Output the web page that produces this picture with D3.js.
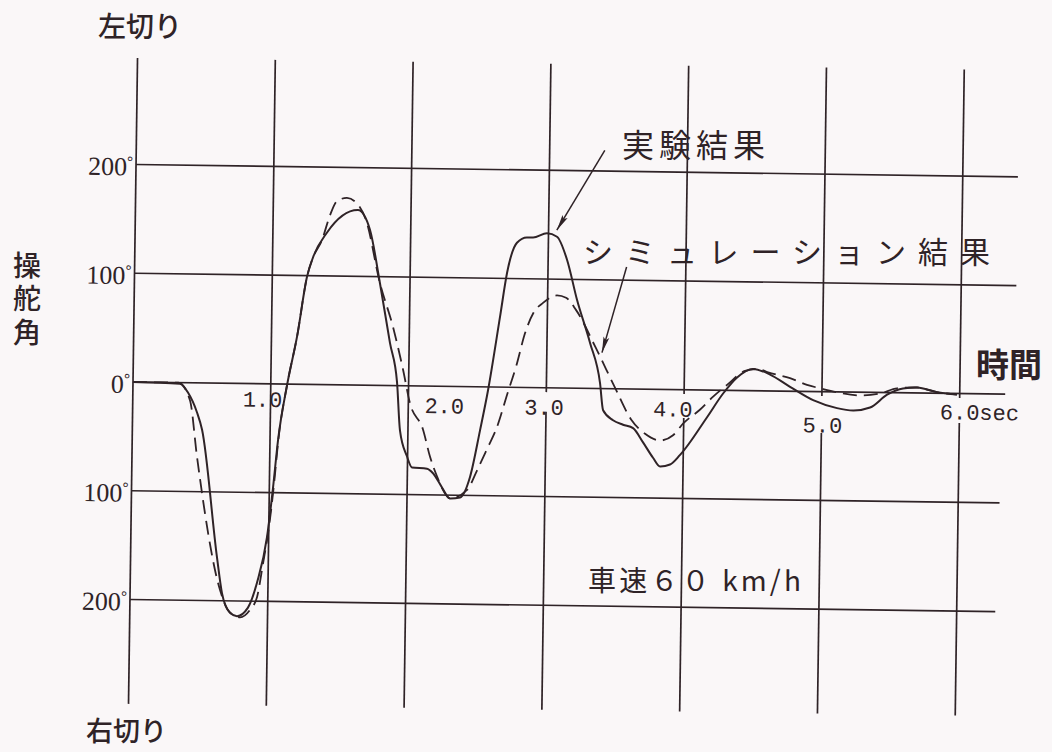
<!DOCTYPE html>
<html>
<head>
<meta charset="utf-8">
<script src="https://cdn.jsdelivr.net/npm/d3@7"></script>
<style>
  html, body { margin: 0; padding: 0; background: #faf7f8; }
  svg { display: block; }
</style>
</head>
<body>
<svg id="chart" width="1052" height="752"></svg>
<script>
// ---- data -------------------------------------------------------------
// time axis (seconds)
const timeTicks = [1, 2, 3, 4, 5, 6];
const timeTickLabels = ["1.0", "2.0", "3.0", "4.0", "5.0", "6.0sec"];

// steering angle axis (degrees, left turn positive)
const angleTicks = [200, 100, 0, -100, -200];
const angleTickLabels = ["200", "100", "0", "100", "200"];

// 実験結果 (measured steering angle)
const expTime = [0, 0.34, 0.40, 0.467, 0.506, 0.627, 0.667, 0.727, 0.778, 0.857,
  0.920, 0.988, 1.027, 1.058, 1.118, 1.186, 1.252, 1.294, 1.393, 1.615,
  1.704, 1.782, 1.861, 1.916, 1.942, 1.996, 2.033, 2.142, 2.186, 2.253,
  2.312, 2.385, 2.455, 2.523, 2.577, 2.657, 2.703, 2.772, 2.844, 2.888,
  2.989, 3.062, 3.137, 3.214, 3.312, 3.389, 3.414, 3.487, 3.560, 3.633,
  3.707, 3.781, 3.833, 3.905, 3.977, 4.169, 4.283, 4.383, 4.498, 4.622,
  4.768, 4.937, 5.111, 5.228, 5.351, 5.473, 5.588, 5.690, 5.835, 5.980];
const expAngle = [0, -1, -9, -27, -43, -160, -193, -211, -214, -206,
  -183, -141, -95, -52, -1, 44, 99, 117, 140, 161,
  143, 94, 39, 3, -41, -65, -75, -76, -80, -93,
  -103, -102, -83, -40, -3, 65, 105, 133, 138, 138,
  142, 139, 118, 81, 42, 5, -20, -29, -33, -36,
  -49, -63, -71, -69, -60, -25, -3, 12, 20, 15,
  4, -8, -15, -17, -14, -2, 4, 5, 1, -1];

// シミュレーション結果 (simulated steering angle)
const simTime = [0, 0.33, 0.415, 0.472, 0.652, 0.705, 0.749, 0.800, 0.872, 0.922,
  0.962, 1.000, 1.035, 1.060, 1.118, 1.186, 1.252, 1.294, 1.357, 1.413,
  1.462, 1.534, 1.607, 1.674, 1.782, 1.881, 1.958, 2.012, 2.109, 2.163,
  2.216, 2.268, 2.312, 2.435, 2.505, 2.576, 2.645, 2.720, 2.780, 2.840,
  2.900, 2.967, 3.068, 3.134, 3.207, 3.356, 3.498, 3.618, 3.721, 3.830,
  3.924, 3.997, 4.118, 4.211, 4.311, 4.440, 4.534, 4.607, 4.767, 4.891,
  4.986, 5.131, 5.277, 5.422, 5.545, 5.690, 5.835, 5.980];
const simAngle = [0, 0, -16, -68, -190, -207, -213, -215, -208, -196,
  -165, -133, -90, -52, -1, 44, 99, 117, 133, 156,
  169, 172, 167, 152, 94, 54, 15, -16, -40, -65,
  -83, -97, -103, -95, -77, -57, -37, -5, 20, 50,
  69, 78, 85, 83, 72, 37, 1, -28, -41, -47,
  -42, -31, -18, -6, 5, 18, 20, 17, 12, 6,
  3, -1, -3, -1, 4, 5, 1, -1];

// annotation arrows: [tail time, tail angle, head time, head angle]
const expArrow = [3.40, 219, 3.06, 145];
const simArrow = [3.57, 112, 3.40, 33];

// ---- layout -----------------------------------------------------------
const ink = "#2f2327";
const origin = { x: 133, y: 382 };
const pxPerSec = 137.8, pxPerDeg = 1.0875;
const tilt = 0.8;                        // the whole grid sits slightly rotated
const gridTop = 298, gridBottom = -296;  // vertical rule extents (deg)
const hRuleEnd = [6.4, 6.4, 6.33, 6.3, 6.28];          // right end of each horizontal rule (s)
const ruleGap = { 3: -22, 4: -26, 5: -38, 6: -27 };     // rules broken under their labels
const tickDx = [-8, 36, -2, -11, 1, 20];
const tickDy = [23, 27, 27, 27, 41, 26];

const x = d3.scaleLinear().domain([0, 6]).range([origin.x, origin.x + 6 * pxPerSec]);
const y = d3.scaleLinear().domain([-200, 200])
  .range([origin.y + 200 * pxPerDeg, origin.y - 200 * pxPerDeg]);

const svg = d3.select("#chart");
svg.append("rect").attr("width", 1052).attr("height", 752).attr("fill", "#faf7f8");

const defs = svg.append("defs");
defs.append("marker")
  .attr("id", "head")
  .attr("viewBox", "0 0 16 8")
  .attr("refX", 16).attr("refY", 4)
  .attr("markerWidth", 16).attr("markerHeight", 8)
  .attr("markerUnits", "userSpaceOnUse")
  .attr("orient", "auto")
  .append("path")
  .attr("d", "M0,1 L16,4 L0,7 L3,4 Z")
  .attr("fill", ink);

const plot = svg.append("g")
  .attr("transform", `rotate(${tilt},${origin.x},${origin.y})`);

// vertical rules (axis at t = 0)
const rules = plot.append("g").attr("stroke", ink).attr("stroke-width", 1.7).attr("fill", "none");
[0, ...timeTicks].forEach(t => {
  if (ruleGap[t] !== undefined) {
    rules.append("line").attr("x1", x(t)).attr("x2", x(t)).attr("y1", y(gridTop)).attr("y2", y(-4));
    rules.append("line").attr("x1", x(t)).attr("x2", x(t)).attr("y1", y(ruleGap[t])).attr("y2", y(gridBottom));
  } else {
    rules.append("line").attr("x1", x(t)).attr("x2", x(t)).attr("y1", y(gridTop)).attr("y2", y(gridBottom));
  }
});
// horizontal rules
angleTicks.forEach((v, i) => {
  rules.append("line").attr("x1", x(0)).attr("x2", x(hRuleEnd[i])).attr("y1", y(v)).attr("y2", y(v));
});

// angle labels
const yLab = plot.append("g")
  .attr("font-family", "'Liberation Serif', serif")
  .attr("font-size", 26)
  .attr("fill", ink)
  .attr("text-anchor", "end");
angleTicks.forEach((v, i) => {
  const t = yLab.append("text").attr("x", x(0) - 3).attr("y", y(v) + 11);
  t.append("tspan").text(angleTickLabels[i]);
  t.append("tspan").attr("font-size", 15).attr("dy", -9).attr("font-weight", 700).text("°");
});

// time labels
const xLab = plot.append("g")
  .attr("font-family", "'Liberation Mono', monospace")
  .attr("font-size", 22)
  .attr("fill", ink)
  .attr("text-anchor", "middle");
timeTicks.forEach((t, i) => {
  xLab.append("text")
    .attr("x", x(t) + tickDx[i])
    .attr("y", y(0) + tickDy[i])
    .text(timeTickLabels[i]);
});

// curves
const line = d3.line()
  .x(d => x(d[0]))
  .y(d => y(d[1]))
  .curve(d3.curveMonotoneX);

const simData = simTime.map((t, i) => [t, simAngle[i]]);
const expData = expTime.map((t, i) => [t, expAngle[i]]);

plot.append("path")
  .datum(simData)
  .attr("d", line)
  .attr("fill", "none")
  .attr("stroke", ink)
  .attr("stroke-width", 1.8)
  .attr("stroke-dasharray", "14,7");

plot.append("path")
  .datum(expData)
  .attr("d", line)
  .attr("fill", "none")
  .attr("stroke", ink)
  .attr("stroke-width", 2);

// pointer arrows
[expArrow, simArrow].forEach(a => {
  plot.append("line")
    .attr("x1", x(a[0])).attr("y1", y(a[1]))
    .attr("x2", x(a[2])).attr("y2", y(a[3]))
    .attr("stroke", ink).attr("stroke-width", 1.5)
    .attr("marker-end", "url(#head)");
});

// ---- captions ---------------------------------------------------------
const jp = "'Noto Sans CJK JP', sans-serif";
const cap = svg.append("g").attr("fill", ink).attr("font-family", jp);

cap.append("text").attr("x", 98).attr("y", 37)
  .attr("font-size", 28).attr("font-weight", 500).text("左切り");
cap.append("text").attr("x", 86).attr("y", 741)
  .attr("font-size", 27).attr("font-weight", 500).text("右切り");

// vertical axis title
cap.append("text")
  .attr("x", 27).attr("y", 251)
  .attr("writing-mode", "tb")
  .attr("font-size", 28).attr("font-weight", 500)
  .attr("letter-spacing", 5.5)
  .text("操舵角");

cap.append("text").attr("x", 976).attr("y", 377)
  .attr("font-size", 33).attr("font-weight", 700).text("時間");

cap.append("text").attr("x", 622).attr("y", 157)
  .attr("font-size", 32).attr("textLength", 143).attr("lengthAdjust", "spacing")
  .text("実験結果");

cap.append("text").attr("x", 583).attr("y", 263)
  .attr("font-size", 30).attr("textLength", 407).attr("lengthAdjust", "spacing")
  .text("シミュレーション結果");

cap.append("text").attr("x", 588).attr("y", 591)
  .attr("font-size", 28).attr("textLength", 213).attr("lengthAdjust", "spacing")
  .text("車速６０ km/h");
</script>
</body>
</html>
